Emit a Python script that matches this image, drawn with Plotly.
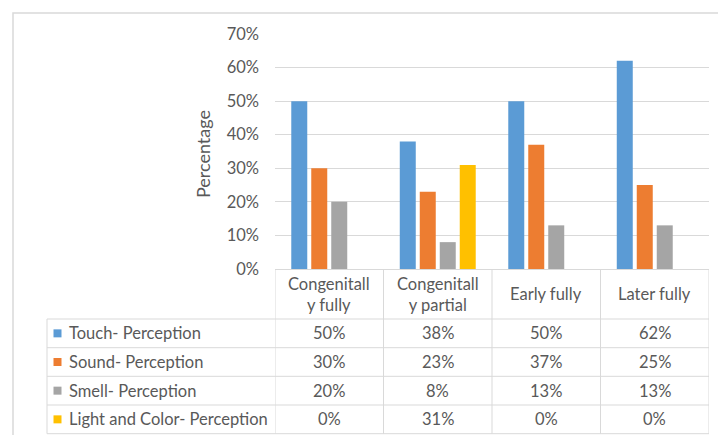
import plotly.graph_objects as go

categories = ["Congenitall<br>y fully", "Congenitall<br>y partial", "Early fully", "Later fully"]
series_names = ["Touch- Perception", "Sound- Perception", "Smell- Perception", "Light and Color- Perception"]
touch = [50, 38, 50, 62]
sound = [30, 23, 37, 25]
smell = [20, 8, 13, 13]
light = [0, 31, 0, 0]
colors = ["#5B9BD5", "#ED7D31", "#A5A5A5", "#FFC000"]
y_ticks = [0, 10, 20, 30, 40, 50, 60, 70]

series = [touch, sound, smell, light]

W, H = 718, 435
L, R, T, B = 275, 709, 34, 269  # plot area in pixels
FONT = "Lato"
FS = 16.5
TXT = "#595959"
GRID = "#D9D9D9"

def X(px):
    return (px - L) / (R - L)

def Y(py):
    return (B - py) / (B - T)

fig = go.Figure()
xs = list(range(len(categories)))
for name, vals, col in zip(series_names, series, colors):
    fig.add_trace(go.Bar(x=xs, y=vals, name=name, marker=dict(color=col, line=dict(width=0)),
                         showlegend=False, hoverinfo="skip"))

shapes = []
annotations = []

# outer chart border
shapes.append(dict(type="rect", xref="paper", yref="paper", x0=X(13), x1=X(730), y0=Y(445), y1=Y(13),
                   line=dict(color=GRID, width=1.5), fillcolor="rgba(0,0,0,0)", layer="below"))

row_lines = [319, 347.7, 376.3, 405, 433.7]
# horizontal table lines
for py in row_lines:
    shapes.append(dict(type="line", xref="paper", yref="paper", x0=X(47), x1=X(R), y0=Y(py), y1=Y(py),
                       line=dict(color=GRID, width=1)))
# vertical table lines at category boundaries
for i in range(len(categories) + 1):
    shapes.append(dict(type="line", xref="x", yref="paper", x0=i - 0.5, x1=i - 0.5, y0=Y(B), y1=Y(row_lines[-1]),
                       line=dict(color=GRID, width=1)))
# left vertical of label column
shapes.append(dict(type="line", xref="paper", yref="paper", x0=X(47), x1=X(47), y0=Y(row_lines[0]), y1=Y(row_lines[-1]),
                   line=dict(color=GRID, width=1)))

# header labels
for i, c in enumerate(categories):
    annotations.append(dict(x=i, xref="x", y=Y(294), yref="paper", text=c, showarrow=False,
                            font=dict(family=FONT, size=FS, color=TXT), xanchor="center", yanchor="middle"))

# rows
for r, (name, vals, col) in enumerate(zip(series_names, series, colors)):
    yc = (row_lines[r] + row_lines[r + 1]) / 2
    shapes.append(dict(type="rect", xref="paper", yref="paper", x0=X(53.5), x1=X(61.5), y0=Y(yc + 4), y1=Y(yc - 4),
                       line=dict(width=0), fillcolor=col))
    annotations.append(dict(x=X(67), xref="paper", y=Y(yc), yref="paper", text=name, showarrow=False,
                            font=dict(family=FONT, size=FS, color=TXT), xanchor="left", yanchor="middle"))
    for i, v in enumerate(vals):
        annotations.append(dict(x=i, xref="x", y=Y(yc), yref="paper", text=f"{v}%", showarrow=False,
                                font=dict(family=FONT, size=FS, color=TXT), xanchor="center", yanchor="middle"))

# y axis title
annotations.append(dict(x=X(203), xref="paper", y=Y(154), yref="paper", text="Percentage", textangle=-90,
                        showarrow=False, font=dict(family=FONT, size=18, color=TXT),
                        xanchor="center", yanchor="middle"))

fig.update_layout(
    width=W, height=H,
    margin=dict(l=L, r=W - R, t=T, b=H - B, pad=0),
    paper_bgcolor="white", plot_bgcolor="white",
    barmode="group", bargap=0.263, bargroupgap=0.2,
    xaxis=dict(range=[-0.5, 3.5], showticklabels=False, showgrid=False, zeroline=False,
               showline=True, linecolor=GRID, linewidth=1, fixedrange=True),
    yaxis=dict(range=[0, 70], tickvals=y_ticks, ticktext=[f"{t}%" for t in y_ticks],
               showgrid=True, gridcolor=GRID, gridwidth=1, zeroline=False, showline=False,
               tickfont=dict(family=FONT, size=FS, color=TXT), ticks="", ticklabelstandoff=15,
               fixedrange=True),
    shapes=shapes, annotations=annotations, showlegend=False,
)

fig.write_html("out.html")
